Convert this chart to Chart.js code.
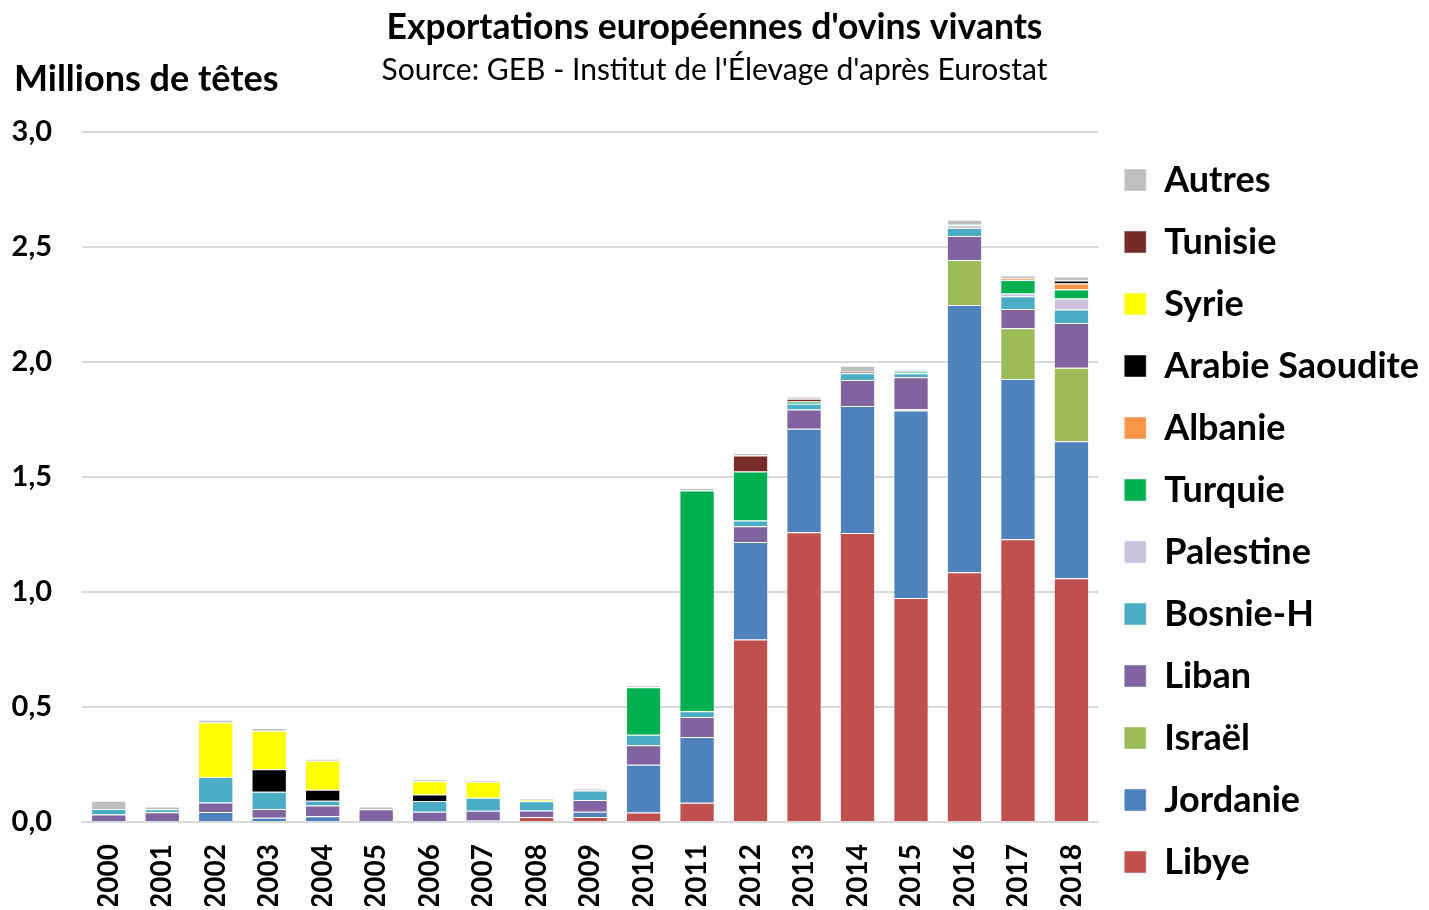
<!DOCTYPE html>
<html>
<head>
<meta charset="utf-8">
<script src="https://cdn.jsdelivr.net/npm/chart.js@4/dist/chart.umd.min.js"></script>
<style>
html,body{margin:0;padding:0;background:#fff;}
canvas{display:block;}
</style>
</head>
<body>
<canvas id="c" width="1429" height="910"></canvas>
<script>
const years = ["2000","2001","2002","2003","2004","2005","2006","2007","2008","2009","2010","2011","2012","2013","2014","2015","2016","2017","2018"];
const yTickLabels = ["0,0","0,5","1,0","1,5","2,0","2,5","3,0"];

const libye     = [0,0,0,0,0,0,0,0,0.022,0.022,0.041,0.084,0.793,1.259,1.256,0.973,1.085,1.229,1.059];
const jordanie  = [0,0,0.043,0.018,0.025,0,0,0.007,0,0.023,0.208,0.285,0.424,0.450,0.552,0.815,1.161,0.696,0.595];
const israel    = [0,0,0,0,0,0,0,0,0,0,0,0,0,0,0,0.005,0.196,0.220,0.320];
const liban     = [0.033,0.042,0.042,0.038,0.047,0.055,0.045,0.042,0.028,0.051,0.085,0.087,0.068,0.083,0.113,0.140,0.104,0.084,0.194];
const bosnie    = [0.023,0.013,0.111,0.075,0.020,0,0.046,0.056,0.040,0.041,0.045,0.025,0.025,0.025,0.029,0.017,0.035,0.056,0.059];
const palestine = [0,0,0,0,0,0,0,0,0,0,0,0,0,0,0,0,0.012,0.012,0.048];
const turquie   = [0,0,0,0,0,0,0,0,0,0,0.207,0.960,0.213,0.010,0,0.007,0.004,0.058,0.039];
const albanie   = [0,0,0,0,0,0,0,0,0,0,0,0,0,0,0,0,0,0.007,0.026];
const arabie    = [0,0,0,0.098,0.048,0,0.028,0,0,0,0,0,0,0,0,0,0,0,0.013];
const syrie     = [0,0,0.236,0.168,0.126,0,0.058,0.070,0.007,0,0,0,0,0,0,0,0,0,0];
const tunisie   = [0,0,0,0,0,0,0,0,0,0,0,0,0.070,0.012,0.006,0,0,0,0];
const autres    = [0.036,0.012,0.012,0.012,0.009,0.012,0.009,0.006,0.006,0.009,0.007,0.010,0.010,0.010,0.027,0.008,0.020,0.013,0.017];

const seriesNames = ["Libye","Jordanie","Israël","Liban","Bosnie-H","Palestine","Turquie","Albanie","Arabie Saoudite","Syrie","Tunisie","Autres"];
const seriesData = [libye,jordanie,israel,liban,bosnie,palestine,turquie,albanie,arabie,syrie,tunisie,autres];
const seriesColors = ["#C0504D","#4F81BD","#9BBB59","#8064A2","#4BACC6","#CCC1DA","#00B050","#F79646","#000000","#FFFF00","#772C2A","#BFBFBF"];

const FONT = "Lato, 'Open Sans', sans-serif";

const yLabelPlugin = {
  id: 'yLabel',
  afterDraw(chart) {
    const ctx = chart.ctx;
    ctx.save();
    ctx.font = "bold 36px " + FONT;
    ctx.fillStyle = "#000";
    ctx.textAlign = "left";
    ctx.textBaseline = "middle";
    ctx.fillText("Millions de têtes", 14, 79);
    ctx.restore();
  }
};

new Chart(document.getElementById('c'), {
  type: 'bar',
  data: {
    labels: years,
    datasets: seriesNames.map((n, i) => ({
      label: n,
      data: seriesData[i],
      backgroundColor: seriesColors[i],
      borderColor: 'rgba(255,255,255,0.45)',
      borderWidth: 1,
      barPercentage: 0.66,
      categoryPercentage: 1.0
    }))
  },
  options: {
    responsive: false,
    animation: false,
    layout: { padding: { left: 0, right: 0, top: 0, bottom: 4 } },
    plugins: {
      title: {
        display: true,
        text: "Exportations européennes d'ovins vivants",
        font: { family: FONT, size: 35.5, weight: 'bold' },
        color: '#000',
        padding: { top: 6, bottom: 0 }
      },
      subtitle: {
        display: true,
        text: "Source: GEB - Institut de l'Élevage d'après Eurostat",
        font: { family: FONT, size: 30, weight: 'normal' },
        color: '#000',
        padding: { top: 4, bottom: 43 }
      },
      legend: {
        position: 'right',
        align: 'end',
        reverse: true,
        labels: {
          boxWidth: 22,
          boxHeight: 22,
          padding: 26,
          color: '#000',
          font: { family: FONT, size: 36, weight: 'bold' }
        }
      },
      tooltip: { enabled: false }
    },
    scales: {
      x: {
        stacked: true,
        afterFit(scale) { scale.height = 84; },
        grid: { display: false },
        border: { display: true, color: '#d9d9d9', width: 2 },
        ticks: {
          color: '#000',
          font: { family: FONT, size: 28, weight: 'bold' },
          minRotation: 90,
          maxRotation: 90,
          padding: 14
        }
      },
      y: {
        stacked: true,
        min: 0,
        max: 3,
        afterFit(scale) { scale.width = 82; },
        grid: { color: '#d9d9d9', lineWidth: 2, drawTicks: false },
        border: { display: false },
        ticks: {
          stepSize: 0.5,
          padding: 30,
          color: '#000',
          font: { family: FONT, size: 29, weight: 'bold' },
          callback: (v, i) => yTickLabels[i]
        }
      }
    }
  },
  plugins: [yLabelPlugin]
});
</script>
</body>
</html>
